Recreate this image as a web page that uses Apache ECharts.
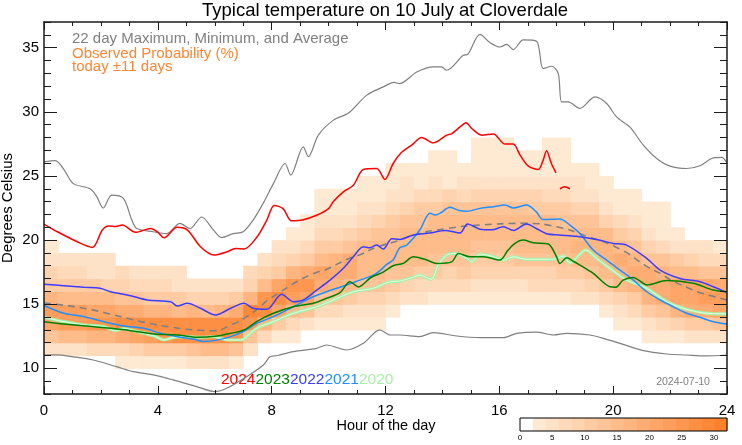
<!DOCTYPE html>
<html>
<head>
<meta charset="utf-8">
<script src="https://cdn.jsdelivr.net/npm/echarts@6/dist/echarts.min.js"></script>
<style>
html,body{margin:0;padding:0;background:#fff;}
#chart{width:742px;height:445px;}
</style>
</head>
<body>
<div id="chart"></div>
<script>
// ---------------- data ----------------
const titleText = 'Typical temperature on 10 July at Cloverdale';
const xTickValues = [0, 4, 8, 12, 16, 20, 24];
const yMajorTicks = [10, 15, 20, 25, 30, 35];
const cbTickValues = [0, 5, 10, 15, 20, 25, 30];
const cbEdges = [0, 2, 4, 6, 8, 10, 12, 14, 16, 18, 20, 22, 24, 26, 28, 30, 32];
const yearLabels = ['2024', '2023', '2022', '2021', '2020'];

// heatmap: column start hour, lowest temperature bin, probabilities (%) per 1°C bin upward
const heatHours = [0,0.5,1,1.5,2,2.5,3,3.5,4,4.5,5,5.5,6,6.5,7,7.5,8,8.5,9,9.5,10,10.5,11,11.5,
                   12,12.5,13,13.5,14,14.5,15,15.5,16,16.5,17,17.5,18,18.5,19,19.5,20,20.5,21,21.5,22,22.5,23,23.5];
const heatBottom = [11,11,11,11,11,10,10,10,10,10,10,10,10,10,11,12,12,12,13,13,13,13,13,13,
                    14,15,15,15,15,15,15,15,15,15,15,15,15,15,15,14,13,13,12,12,12,12,12,12];
const heatProb = [
  [4,12,20,22,16,11,8,5,2],
  [5,14,22,22,15,11,7,4],
  [5,15,23,22,15,10,6,4],
  [6,16,24,21,14,10,5,4],
  [6,17,25,20,14,9,5,4],
  [2,7,19,26,19,13,8,6],
  [3,8,21,27,18,12,7,4],
  [3,10,23,26,17,11,6,4],
  [3,10,24,27,16,10,6,4],
  [3,11,26,26,15,10,5,4],
  [4,13,26,27,16,9,5],
  [4,14,27,26,15,9,5],
  [4,14,26,27,16,8,5],
  [3,12,24,27,19,10,5],
  [4,13,24,28,16,9,6],
  [6,17,27,24,14,8,4],
  [3,10,20,26,20,11,6,4],
  [2,7,15,22,24,16,8,4,2],
  [5,12,20,24,18,10,6,3,2],
  [3,7,13,18,20,15,10,6,4,2,2],
  [2,6,12,17,19,17,11,7,4,3,2],
  [2,5,10,15,18,18,13,9,5,3,2],
  [2,5,9,13,15,15,14,11,7,5,2,2],
  [2,4,8,12,14,15,15,12,8,5,3,2],
  [3,6,10,13,15,15,13,10,6,4,3,2],
  [4,8,12,14,15,15,12,9,5,4,2],
  [4,7,11,14,15,15,13,10,6,3,2],
  [3,6,10,13,14,14,14,11,7,4,2,2],
  [3,6,9,12,14,15,14,12,8,3,2,2],
  [3,6,10,13,14,15,14,12,7,4,2],
  [3,5,8,11,13,14,14,12,9,5,2,2,2],
  [3,5,8,11,13,14,14,12,9,5,2,2,2],
  [3,5,9,11,13,14,14,12,8,5,2,2,2],
  [3,5,8,12,14,15,14,12,8,5,2,2],
  [3,6,9,12,14,15,14,11,8,4,2,2],
  [3,6,9,12,14,14,14,11,7,4,2,2,2],
  [3,6,10,13,14,15,13,10,6,4,2,2,2],
  [4,7,11,14,16,15,13,9,5,4,2],
  [4,8,12,15,17,15,12,8,5,2,2],
  [3,6,10,15,17,17,14,9,5,2,2],
  [2,5,9,14,17,18,15,10,6,2,2],
  [2,6,11,16,18,17,13,9,4,2,2],
  [2,5,11,16,19,18,13,8,4,2,2],
  [2,7,13,18,19,16,12,7,2,2,2],
  [3,9,16,20,20,15,10,5,2],
  [4,10,18,21,20,14,9,4],
  [4,11,19,22,20,13,7,4],
  [5,12,20,22,19,12,7,3]
];

const maxLine = [[0,26.1],[0.4,26.2],[0.7,25.5],[1.03,24.4],[1.62,24.0],[1.85,23.4],[2.08,22.5],[2.38,23.5],[2.79,23.25],[3.08,21.6],[3.26,20.9],[3.84,20.65],[4.31,20.5],[4.78,21.3],[5.13,20.9],[5.54,21.8],[5.95,20.8],[6.24,20.2],[6.65,20.5],[7.0,20.65],[7.35,21.56],[7.7,22.86],[8.06,24.4],[8.47,25.97],[8.67,25.06],[9.11,27.27],[9.29,26.5],[9.64,28.18],[10.17,29.35],[10.7,29.9],[11.34,31.3],[11.92,31.94],[12.3,32.3],[12.5,32.2],[13.1,33.1],[13.68,33.5],[13.97,33.5],[14.15,33.24],[14.73,34.4],[14.9,34.5],[15.32,36.04],[15.67,35.4],[16.02,35.05],[16.26,35.26],[16.49,34.85],[16.84,35.6],[17.31,35.5],[17.54,33.37],[17.84,33.55],[18.07,33.0],[18.19,30.77],[18.42,30.77],[18.83,30.26],[19.36,31.16],[19.77,30.65],[20.12,29.6],[20.59,28.8],[21.06,27.4],[21.53,26.36],[22.0,25.76],[22.58,25.58],[23.05,25.79],[23.46,26.36],[23.81,26.44],[24,26.0]];
const minLine = [[0,11.04],[0.44,11.05],[1.03,10.9],[1.73,10.65],[2.55,10.13],[3.14,9.74],[3.84,9.49],[4.54,9.1],[5.36,8.58],[6.0,8.19],[6.42,8.45],[7.12,9.35],[7.71,10.26],[7.94,10.9],[8.2,11.0],[8.76,11.3],[9.58,11.56],[9.93,11.82],[10.64,11.43],[11.22,11.95],[11.8,13.0],[12.16,12.6],[12.5,12.6],[13.2,12.47],[13.68,12.78],[14.5,12.52],[15.32,12.4],[16.14,12.4],[16.61,12.73],[17.31,12.83],[17.9,12.6],[18.37,12.73],[19.18,12.6],[19.77,12.26],[20.24,11.95],[21.06,11.38],[21.88,11.12],[22.58,11.04],[23.28,10.97],[24,11.04]];
const avgLine = [[0,15.1],[0.6,14.95],[1.5,14.65],[2.2,14.3],[2.93,13.9],[3.4,13.64],[4.5,13.2],[5.6,12.95],[5.95,12.93],[6.5,13.3],[7.24,14.2],[7.94,15.45],[8.06,15.6],[8.88,16.75],[9.6,17.5],[9.81,17.6],[10.75,18.6],[11.1,18.85],[11.69,19.45],[12.45,19.95],[12.98,20.39],[14.15,20.9],[15.32,21.17],[16.84,21.3],[18.01,21.04],[19.07,20.3],[20.24,19.3],[21.18,17.95],[21.65,17.4],[22.11,16.8],[22.82,16.1],[23.05,15.9],[24,15.33]];
const line2024 = [[0,21.25],[0.47,20.65],[1.17,19.87],[1.7,19.43],[2.05,20.78],[2.28,21.09],[2.52,21.05],[2.75,21.17],[3.22,20.6],[3.75,20.91],[3.98,20.65],[4.22,20.18],[4.68,20.99],[5.04,20.78],[5.5,19.48],[5.97,18.83],[6.44,19.09],[6.73,19.35],[7.03,19.3],[7.47,20.2],[7.83,21.56],[8.09,22.7],[8.4,22.45],[8.7,21.5],[9.08,21.56],[9.6,21.95],[10.0,22.45],[10.17,23.0],[10.52,23.76],[10.87,24.28],[11.22,25.5],[11.69,25.58],[11.98,24.73],[12.27,25.97],[12.55,26.8],[12.92,27.4],[13.27,28.0],[13.68,27.58],[14.15,28.18],[14.33,28.3],[14.62,28.82],[14.83,29.14],[15.03,28.7],[15.38,28.18],[15.79,28.26],[16.2,27.48],[16.49,27.48],[16.73,26.62],[17.02,25.76],[17.37,25.5],[17.54,26.23],[17.66,26.96],[17.83,25.97],[17.99,25.24],[18.06,null],[18.13,24.0],[18.3,24.15],[18.48,24.0]];
const line2023 = [[0,13.64],[0.7,13.46],[1.52,13.3],[2.34,13.12],[3.05,12.94],[3.87,12.68],[4.68,12.6],[5.39,12.42],[6.09,12.52],[6.56,12.73],[7.03,12.99],[7.47,13.64],[8.06,14.29],[8.76,14.8],[9.46,15.07],[9.93,15.46],[10.4,15.9],[10.75,16.75],[11.05,16.35],[11.5,17.1],[11.92,17.5],[12.27,18.0],[12.62,18.18],[12.98,18.7],[13.45,18.44],[13.8,18.18],[14.33,18.3],[14.56,18.96],[14.97,18.7],[15.44,18.7],[16.02,18.44],[16.3,19.2],[16.55,19.74],[16.84,20.0],[17.19,19.79],[17.72,19.69],[18.01,18.7],[18.13,18.18],[18.37,18.62],[18.6,18.35],[18.83,18.05],[19.3,17.4],[19.89,16.36],[20.1,16.33],[20.35,16.88],[20.7,17.09],[21.2,16.5],[21.88,16.85],[22.82,16.63],[23.52,16.1],[24,15.97]];
const line2022 = [[0,16.55],[0.7,16.44],[1.41,16.32],[1.97,16.25],[2.34,15.97],[3.05,15.66],[3.63,15.33],[4.45,15.2],[4.68,14.86],[5.04,15.07],[5.5,14.68],[6.03,14.16],[6.56,14.68],[7.03,15.07],[7.35,14.68],[7.83,14.6],[8.35,15.77],[8.76,15.2],[9.11,15.33],[9.58,16.1],[10.05,16.88],[10.52,17.8],[10.87,18.7],[11.22,19.48],[11.45,19.4],[11.69,19.61],[11.92,19.3],[12.22,20.1],[12.5,20.05],[12.98,20.4],[13.55,20.55],[14.1,20.75],[14.62,20.55],[14.88,21.25],[15.32,20.85],[15.75,20.8],[16.14,21.04],[16.5,20.75],[16.96,21.25],[17.3,20.9],[17.66,20.5],[18.1,20.4],[18.7,20.3],[19.42,20.05],[20.0,19.74],[20.47,19.61],[21.18,18.57],[21.65,17.66],[22.35,17.0],[23.05,16.75],[23.52,16.36],[24,15.9]];
const line2021 = [[0,14.9],[0.7,14.29],[1.41,14.03],[2.1,13.64],[2.81,13.3],[3.51,13.12],[4.1,12.73],[4.68,12.47],[5.27,12.26],[5.6,12.1],[6.09,12.2],[6.56,12.47],[7.0,12.86],[7.47,13.5],[8.06,14.03],[8.76,14.8],[9.46,15.58],[9.93,15.97],[10.64,16.5],[11.1,16.88],[11.57,17.27],[11.8,17.6],[12.04,18.1],[12.27,18.44],[12.5,19.4],[12.74,19.6],[13.21,20.8],[13.56,22.1],[13.75,21.95],[13.91,22.08],[14.27,22.55],[14.6,22.3],[14.85,22.25],[15.32,22.47],[15.79,22.6],[16.2,22.73],[16.49,22.5],[16.96,22.73],[17.3,22.2],[17.54,21.6],[18.13,21.65],[18.48,21.17],[18.83,20.52],[19.3,19.22],[19.77,18.44],[20.24,17.66],[20.71,16.88],[21.18,15.97],[21.65,15.33],[22.11,14.8],[22.58,14.29],[23.05,13.98],[23.52,13.64],[24,13.46]];
const line2020 = [[0,13.98],[0.7,13.64],[1.41,13.38],[2.1,13.25],[2.52,12.94],[2.81,13.1],[3.28,12.86],[3.87,12.52],[4.22,12.21],[4.57,12.42],[5.04,12.47],[5.5,12.42],[5.97,12.47],[6.44,12.21],[6.9,12.21],[7.0,12.26],[7.47,13.12],[8.06,13.64],[8.76,14.29],[9.58,14.8],[10.17,15.33],[10.87,15.97],[11.57,16.24],[12.16,16.75],[12.5,16.8],[12.98,17.1],[13.2,17.27],[13.6,16.94],[13.86,18.1],[14.15,18.83],[14.44,18.96],[14.85,18.6],[15.03,18.31],[15.32,18.9],[15.79,18.7],[16.14,18.44],[16.5,18.7],[16.96,18.5],[17.54,18.5],[17.9,18.5],[18.25,18.75],[18.48,18.2],[18.7,18.6],[19.04,19.22],[19.42,18.57],[20.0,17.6],[20.47,16.88],[21.18,16.24],[21.88,15.2],[22.58,14.6],[23.28,14.29],[24,14.25]];

// ---------------- styles ----------------
const FONT = "'Liberation Sans', Arial, Helvetica, sans-serif";
const AX = '#1a1a1a';
const C2024 = '#ff0000', C2023 = '#008000', C2022 = '#3c3cff', C2021 = '#1e90ff', C2020 = '#a8f0a8';
const GRAY = '#808080';

function heatColor(v) {
  const lv = Math.min(15, Math.floor(v / 2));
  if (lv <= 0) return '#ffffff';
  const t = (lv - 1) / 14;
  const a = [254, 233, 211], b = [253, 128, 44];
  const c = a.map((x, i) => Math.round(x + (b[i] - x) * t));
  return 'rgb(' + c.join(',') + ')';
}

// build heat cell table from the arrays
const heatData = [];
heatHours.forEach((h, k) => {
  heatProb[k].forEach((p, j) => { heatData.push([h, heatBottom[k] + j, p]); });
});
const heatStep = 0.5;
const cbData = [];
for (let i = 0; i < cbEdges.length - 1; i++) cbData.push([cbEdges[i], cbEdges[i + 1]]);

function lineSeries(data, color, width, extra) {
  return Object.assign({
    type: 'line', data: data, xAxisIndex: 0, yAxisIndex: 0,
    showSymbol: false, symbol: 'none', smooth: 0.3, silent: true, clip: true,
    connectNulls: false,
    lineStyle: { color: color, width: width }
  }, extra || {});
}

const axisCommonX = {
  gridIndex: 0, type: 'value', min: 0, max: 24, interval: 4, z: 10,
  axisLine: { onZero: false, lineStyle: { color: AX, width: 1.5 } },
  axisTick: { inside: true, length: 8, lineStyle: { color: AX, width: 1 } },
  minorTick: { show: true, splitNumber: 4, length: 4, lineStyle: { color: AX, width: 1 } },
  splitLine: { show: false }, minorSplitLine: { show: false }
};
const axisMinorY = {
  gridIndex: 0, type: 'value', min: 8, max: 37, interval: 1, z: 10,
  axisLine: { onZero: false, lineStyle: { color: AX, width: 1.5 } },
  axisTick: { inside: true, length: 7, lineStyle: { color: AX, width: 1 } },
  splitLine: { show: false }
};
const axisMajorY = {
  gridIndex: 0, type: 'value', min: 8, max: 37, z: 10,
  axisLine: { show: false, onZero: false },
  axisTick: { inside: true, length: 13, customValues: yMajorTicks, lineStyle: { color: AX, width: 1 } },
  axisLabel: { show: false },
  splitLine: { show: false }
};

const option = {
  animation: false,
  backgroundColor: '#ffffff',
  grid: [
    { left: 44, top: 22, width: 683, height: 372, containLabel: false },
    { left: 520, top: 418, width: 207, height: 13, show: true, borderColor: '#000', borderWidth: 1, backgroundColor: 'transparent', z: 10 }
  ],
  xAxis: [
    Object.assign({}, axisCommonX, { position: 'bottom',
      axisLabel: { fontSize: 15, color: '#000', margin: 9, fontFamily: FONT, customValues: xTickValues } }),
    Object.assign({}, axisCommonX, { position: 'top', axisLabel: { show: false } }),
    { gridIndex: 1, type: 'value', min: 0, max: 32, interval: 5, position: 'bottom',
      axisLine: { show: false, onZero: false }, axisTick: { show: false },
      axisLabel: { fontSize: 8, color: '#000', margin: 3, fontFamily: FONT, customValues: cbTickValues },
      splitLine: { show: false } }
  ],
  yAxis: [
    Object.assign({}, axisMinorY, { position: 'left',
      axisLabel: { fontSize: 15, color: '#000', margin: 5, fontFamily: FONT,
        formatter: v => (yMajorTicks.indexOf(v) >= 0 ? String(v) : '') } }),
    Object.assign({}, axisMajorY, { position: 'left' }),
    Object.assign({}, axisMinorY, { position: 'right', axisLabel: { show: false } }),
    Object.assign({}, axisMajorY, { position: 'right' }),
    { gridIndex: 1, type: 'value', min: 0, max: 1, show: false }
  ],
  series: [
    {
      type: 'custom', xAxisIndex: 0, yAxisIndex: 0, data: heatData, silent: true, clip: true,
      encode: { x: 0, y: 1 },
      renderItem: function (params, api) {
        const h = api.value(0), t = api.value(1), v = api.value(2);
        const p0 = api.coord([h, t + 1]);
        const p1 = api.coord([h + heatStep, t]);
        return { type: 'rect', shape: { x: p0[0], y: p0[1], width: p1[0] - p0[0] + 0.6, height: p1[1] - p0[1] + 0.6 },
                 style: { fill: heatColor(v) } };
      }
    },
    {
      type: 'custom', xAxisIndex: 2, yAxisIndex: 4, data: cbData, silent: true,
      encode: { x: [0, 1] },
      renderItem: function (params, api) {
        const lo = api.value(0), hi = api.value(1);
        const p0 = api.coord([lo, 1]);
        const p1 = api.coord([hi, 0]);
        return { type: 'rect', shape: { x: p0[0], y: p0[1], width: p1[0] - p0[0] + 0.5, height: p1[1] - p0[1] },
                 style: { fill: heatColor((lo + hi) / 2) } };
      }
    },
    lineSeries(maxLine, GRAY, 1.2),
    lineSeries(minLine, GRAY, 1.2),
    lineSeries(avgLine, GRAY, 1.6, { lineStyle: { color: GRAY, width: 1.6, type: [7, 5] }, smooth: 0.5 }),
    lineSeries(line2020, C2020, 3.2),
    lineSeries(line2020, '#e2ffe2', 1.0),
    lineSeries(line2021, C2021, 1.5),
    lineSeries(line2022, C2022, 1.5),
    lineSeries(line2023, C2023, 1.5),
    lineSeries(line2024, C2024, 1.5)
  ],
  graphic: [
    { type: 'text', x: 385, y: 1, style: { text: titleText, font: '18.5px ' + FONT, fill: '#000', align: 'center', textAlign: 'center', verticalAlign: 'top', textVerticalAlign: 'top' } },
    { type: 'text', x: 72, y: 31, style: { text: '22 day Maximum, Minimum, and Average', font: '15px ' + FONT, fill: GRAY, verticalAlign: 'top', textVerticalAlign: 'top' } },
    { type: 'text', x: 72, y: 47, style: { text: 'Observed Probability (%)\ntoday \u00b111 days', font: '15px ' + FONT, fill: '#ff8533', lineHeight: 13, verticalAlign: 'top', textVerticalAlign: 'top' } },
    { type: 'text', x: 7.5, y: 208, rotation: Math.PI / 2, style: { text: 'Degrees Celsius', font: '15px ' + FONT, fill: '#000', align: 'center', textAlign: 'center', verticalAlign: 'middle', textVerticalAlign: 'middle' } },
    { type: 'text', x: 386, y: 426, style: { text: 'Hour of the day', font: '14.5px ' + FONT, fill: '#000', align: 'center', textAlign: 'center', verticalAlign: 'middle', textVerticalAlign: 'middle' } },
    { type: 'text', x: 683, y: 382, style: { text: '2024-07-10', font: '10.5px ' + FONT, fill: GRAY, align: 'center', textAlign: 'center', verticalAlign: 'middle', textVerticalAlign: 'middle' } },
    { type: 'text', x: 221, y: 380, style: {
        text: '{a|' + yearLabels[0] + '}{b|' + yearLabels[1] + '}{c|' + yearLabels[2] + '}{d|' + yearLabels[3] + '}{e|' + yearLabels[4] + '}',
        font: '15.5px ' + FONT, verticalAlign: 'middle', textVerticalAlign: 'middle',
        rich: {
          a: { fill: C2024, color: C2024, font: '15.5px ' + FONT },
          b: { fill: C2023, color: C2023, font: '15.5px ' + FONT },
          c: { fill: C2022, color: C2022, font: '15.5px ' + FONT },
          d: { fill: C2021, color: C2021, font: '15.5px ' + FONT },
          e: { fill: C2020, color: C2020, font: '15.5px ' + FONT }
        } } }
  ]
};

const chart = echarts.init(document.getElementById('chart'), null, { renderer: 'canvas', width: 742, height: 445 });
chart.setOption(option);
</script>
</body>
</html>
